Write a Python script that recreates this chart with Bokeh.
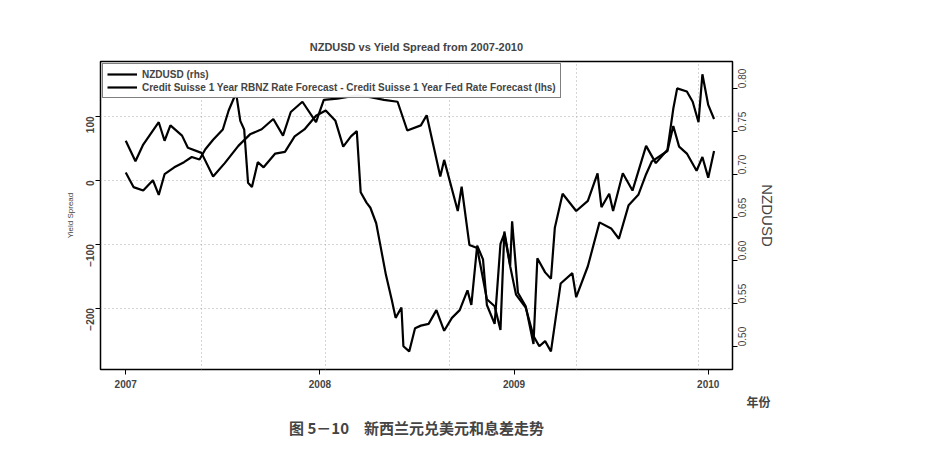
from bokeh.plotting import figure
from bokeh.models import (LinearAxis, Range1d, FixedTicker, Legend, LegendItem,
                          Title, PrintfTickFormatter)
from bokeh.embed import file_html
from bokeh.resources import INLINE
import math

# decimal year, yield spread (lhs)
spread_t = [2007.00, 2007.05, 2007.09, 2007.17, 2007.20, 2007.23, 2007.29, 2007.32, 2007.39, 2007.45,
            2007.51, 2007.58, 2007.64, 2007.70, 2007.76, 2007.81, 2007.85, 2007.91, 2007.98, 2008.02,
            2008.09, 2008.19, 2008.26, 2008.33, 2008.40, 2008.45, 2008.52, 2008.55, 2008.62, 2008.64,
            2008.71, 2008.73, 2008.77, 2008.81, 2008.86, 2008.90, 2008.93, 2008.95, 2008.98, 2008.99,
            2009.02, 2009.06, 2009.10, 2009.12, 2009.16, 2009.19, 2009.21, 2009.25, 2009.32, 2009.38,
            2009.43, 2009.45, 2009.49, 2009.51, 2009.56, 2009.61, 2009.68, 2009.73, 2009.79, 2009.82,
            2009.84, 2009.89, 2009.92, 2009.95, 2009.97, 2010.00, 2010.03]
spread_v = [62, 30, 56, 91, 62, 86, 70, 51, 43, 6,
            27, 54, 72, 80, 96, 70, 107, 123, 91, 126,
            128, 133, 130, 126, 123, 78, 86, 102, 6, 32,
            -48, -10, -101, -106, -186, -197, -234, -80, -133, -64,
            -176, -197, -256, -122, -144, -154, -74, -21, -48, -32,
            11, -42, -21, -48, 11, -16, 54, 27, 48, 112,
            144, 139, 123, 91, 166, 118, 96]

# decimal year, NZDUSD (rhs)
nzd_t = [2007.00, 2007.04, 2007.09, 2007.14, 2007.17, 2007.20, 2007.25, 2007.30, 2007.34, 2007.38,
         2007.41, 2007.45, 2007.50, 2007.53, 2007.56, 2007.57, 2007.59, 2007.61, 2007.63, 2007.65,
         2007.68, 2007.71, 2007.77, 2007.82, 2007.87, 2007.92, 2007.98, 2008.03, 2008.08, 2008.12,
         2008.16, 2008.19, 2008.21, 2008.24, 2008.26, 2008.29, 2008.31, 2008.34, 2008.37, 2008.39,
         2008.42, 2008.43, 2008.46, 2008.49, 2008.52, 2008.56, 2008.60, 2008.64, 2008.68, 2008.72,
         2008.76, 2008.78, 2008.81, 2008.84, 2008.86, 2008.90, 2008.93, 2008.95, 2008.98, 2009.01,
         2009.06, 2009.10, 2009.13, 2009.16, 2009.19, 2009.24, 2009.30, 2009.32, 2009.38, 2009.44,
         2009.50, 2009.54, 2009.59, 2009.64, 2009.68, 2009.71, 2009.79, 2009.82, 2009.85, 2009.89,
         2009.94, 2009.97, 2010.00, 2010.03]
nzd_v = [0.702, 0.685, 0.681, 0.693, 0.676, 0.700, 0.708, 0.714, 0.720, 0.717,
         0.729, 0.740, 0.752, 0.774, 0.790, 0.792, 0.762, 0.752, 0.690, 0.685,
         0.714, 0.708, 0.724, 0.726, 0.744, 0.752, 0.768, 0.774, 0.762, 0.732,
         0.744, 0.750, 0.679, 0.667, 0.661, 0.643, 0.619, 0.583, 0.554, 0.533,
         0.545, 0.500, 0.494, 0.521, 0.524, 0.526, 0.542, 0.518, 0.533, 0.542,
         0.565, 0.548, 0.617, 0.601, 0.548, 0.526, 0.619, 0.631, 0.593, 0.560,
         0.545, 0.512, 0.500, 0.506, 0.494, 0.573, 0.585, 0.557, 0.593, 0.644,
         0.637, 0.625, 0.664, 0.676, 0.700, 0.715, 0.727, 0.756, 0.732, 0.724,
         0.704, 0.720, 0.696, 0.727]

year_ticks = [2007, 2008, 2009, 2010]
grid_x = [2007.39, 2008.03, 2008.67, 2009.32, 2009.95]
spread_ticks = [-200, -100, 0, 100]
nzd_ticks = [0.50, 0.55, 0.60, 0.65, 0.70, 0.75, 0.80]

FONT = "Liberation Sans"
CJK = "Noto Sans CJK SC"

p = figure(width=933, height=442, output_backend="svg", toolbar_location=None,
           x_range=Range1d(2006.87, 2010.125), y_range=Range1d(-296, 186),
           min_border_left=100, min_border_right=201, min_border_top=61,
           min_border_bottom=66)
p.extra_y_ranges = {"nzd": Range1d(0.473, 0.831)}

p.title.text = "NZDUSD vs Yield Spread from 2007-2010"
p.title.align = "center"
p.title.text_font = FONT
p.title.text_font_size = "11px"
p.title.offset = 0
p.title.standoff = 18

p.outline_line_color = "black"
p.outline_line_width = 1.5
p.background_fill_color = "white"

p.xaxis.ticker = FixedTicker(ticks=year_ticks)
p.yaxis.ticker = FixedTicker(ticks=spread_ticks)
p.yaxis.axis_label = "Yield Spread"
p.yaxis.axis_label_text_font_size = "8px"
p.yaxis.axis_label_text_font_style = "normal"
p.yaxis.major_label_orientation = math.pi / 2
for ax in p.axis:
    ax.major_label_text_font = FONT
    ax.major_label_text_font_size = "10px"
    ax.major_label_text_font_style = "bold"
    ax.axis_label_text_font = FONT
    ax.minor_tick_line_color = None
    ax.major_tick_out = 5
    ax.major_tick_in = 0
    ax.axis_line_color = None

p.xgrid.ticker = FixedTicker(ticks=grid_x)
p.grid.grid_line_color = "#aaaaaa"
p.grid.grid_line_dash = "1 3"

right = LinearAxis(y_range_name="nzd", ticker=FixedTicker(ticks=nzd_ticks),
                   axis_label="NZDUSD", formatter=PrintfTickFormatter(format="%.2f"))
right.major_label_orientation = math.pi / 2
right.major_label_text_font = FONT
right.major_label_text_font_size = "10px"
right.axis_label_text_font = FONT
right.axis_label_text_font_size = "15px"
right.axis_label_text_font_style = "normal"
right.minor_tick_line_color = None
right.major_tick_out = 5
right.major_tick_in = 0
right.axis_line_color = None
p.add_layout(right, "right")

r_nzd = p.line(nzd_t, nzd_v, y_range_name="nzd", line_color="black", line_width=2.2)
r_spr = p.line(spread_t, spread_v, line_color="black", line_width=2.2)

legend = Legend(items=[
    LegendItem(label="NZDUSD (rhs)", renderers=[r_nzd]),
    LegendItem(label="Credit Suisse 1 Year RBNZ Rate Forecast - Credit Suisse 1 Year Fed Rate Forecast (lhs)",
               renderers=[r_spr]),
], location="top_left")
legend.margin = 2
legend.padding = 4
legend.spacing = 1
legend.label_height = 12
legend.glyph_height = 12
legend.glyph_width = 30
legend.label_text_font = FONT
legend.label_text_font_size = "10px"
legend.label_text_font_style = "bold"
legend.border_line_color = "black"
legend.border_line_width = 1.2
p.add_layout(legend, "center")

unit = Title(text="年份", align="right", text_font=CJK, text_font_size="12px",
             text_font_style="bold", offset=-38, standoff=0)
p.add_layout(unit, "below")

cap = Title(text="图 5－10　新西兰元兑美元和息差走势", align="center",
            text_font=CJK, text_font_size="15px", text_font_style="bold",
            standoff=10)
p.add_layout(cap, "below")

open("out.html", "w").write(file_html(p, INLINE))
